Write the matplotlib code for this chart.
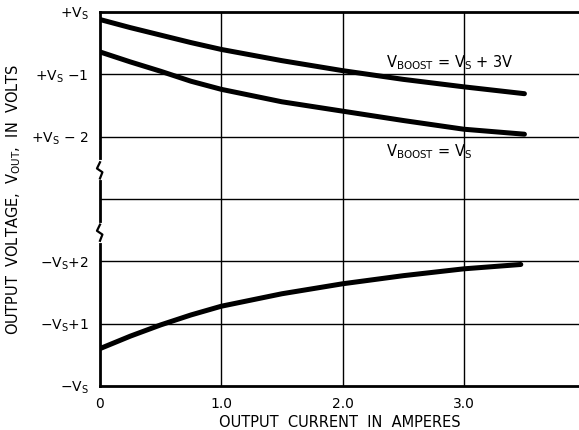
import numpy as np
import matplotlib
matplotlib.use('Agg')
import matplotlib.pyplot as plt

# curve data, y in units above -Vs (0 = -Vs, 6 = +Vs, 3 = axis break)
amps_hi = [0.0, 0.25, 0.5, 0.75, 1.0, 1.5, 2.0, 2.5, 3.0, 3.5]
boost_3v = [5.88, 5.75, 5.63, 5.51, 5.40, 5.22, 5.06, 4.92, 4.80, 4.69]
boost_vs = [5.36, 5.20, 5.05, 4.89, 4.76, 4.56, 4.41, 4.26, 4.12, 4.04]

amps_lo = [0.0, 0.25, 0.5, 0.75, 1.0, 1.5, 2.0, 2.5, 3.0, 3.47]
neg_out = [0.60, 0.80, 0.98, 1.14, 1.28, 1.48, 1.64, 1.77, 1.88, 1.95]

x_ticks = [0, 1.0, 2.0, 3.0]
x_labels = ['0', '1.0', '2.0', '3.0']
y_ticks = [0, 1, 2, 4, 5, 6]
y_labels = [r'$-$V$_{\mathrm{S}}$', r'$-$V$_{\mathrm{S}}$+1', r'$-$V$_{\mathrm{S}}$+2',
            r'+V$_{\mathrm{S}}$ $-$ 2', r'+V$_{\mathrm{S}}$ $-$1', r'+V$_{\mathrm{S}}$']

fig = plt.figure(figsize=(5.79, 4.30), dpi=100)
ax = fig.add_axes([0.1727, 0.1023, 0.8273, 0.8697])

ax.set_xlim(0, 3.95)
ax.set_ylim(0, 6)

# grid
for xv in [1.0, 2.0, 3.0]:
    ax.axvline(xv, color='black', lw=1.0, zorder=1)
for yv in [1, 2, 3, 4, 5]:
    ax.axhline(yv, color='black', lw=1.0, zorder=1)

for xs, ys in [(amps_hi, boost_3v), (amps_hi, boost_vs), (amps_lo, neg_out)]:
    ax.plot(xs, ys, color='black', lw=3.6, solid_capstyle='round',
            solid_joinstyle='round', zorder=3)

ax.text(2.36, 5.18, r'V$_{\mathrm{BOOST}}$ = V$_{\mathrm{S}}$ + 3V', fontsize=10.5, ha='left', va='center')
ax.text(2.36, 3.76, r'V$_{\mathrm{BOOST}}$ = V$_{\mathrm{S}}$', fontsize=10.5, ha='left', va='center')

ax.set_xticks(x_ticks)
ax.set_xticklabels(x_labels, fontsize=10)
ax.set_yticks(y_ticks)
ax.set_yticklabels(y_labels, fontsize=10)
ax.tick_params(length=0, pad=8)

ax.spines['right'].set_visible(False)
for s in ['left', 'bottom', 'top']:
    ax.spines[s].set_linewidth(2.0)

# axis break zigzags on the left spine
for yb in [3.47, 2.47]:
    zx = [0, -0.025, 0.02, 0]
    zy = [yb + 0.12, yb + 0.02, yb - 0.04, yb - 0.14]
    ax.plot([0, 0], [yb - 0.14, yb + 0.12], color='white', lw=3, clip_on=False, zorder=4)
    ax.plot(zx, zy, color='black', lw=1.6, clip_on=False, zorder=5)

ax.set_xlabel('OUTPUT  CURRENT  IN  AMPERES', fontsize=10.5, labelpad=3)
ax.set_ylabel(r'OUTPUT  VOLTAGE,  V$_{\mathrm{OUT}}$,  IN  VOLTS', fontsize=10.5, labelpad=6)

fig.savefig('out.png', dpi=100)
